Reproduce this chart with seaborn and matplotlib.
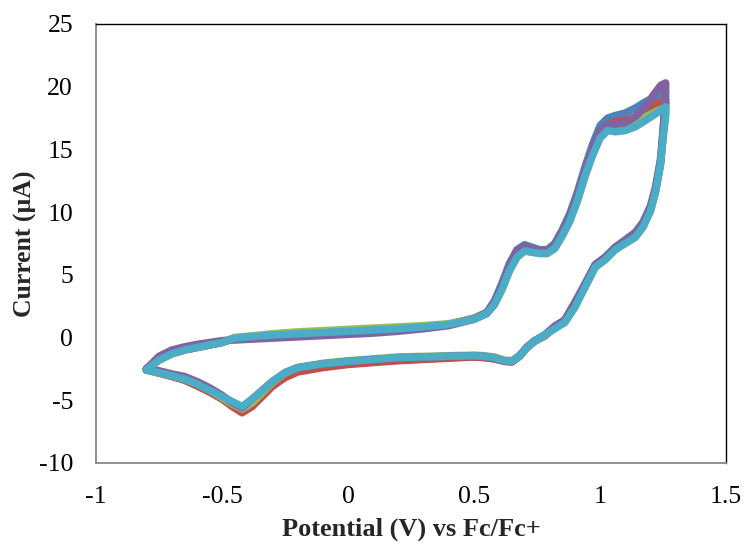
import matplotlib
matplotlib.use("Agg")
import matplotlib.pyplot as plt
import seaborn as sns
import pandas as pd

# Potential steps (V vs Fc/Fc+) for the anodic sweep and the return sweep
e_forward = [-0.80, -0.75, -0.70, -0.65, -0.60, -0.55, -0.50, -0.45, -0.40,
             -0.30, -0.20, -0.10, 0.00, 0.10, 0.20, 0.30, 0.40,
             0.45, 0.50, 0.55, 0.58, 0.61, 0.64, 0.67, 0.70,
             0.73, 0.76, 0.79, 0.82, 0.85, 0.88, 0.91, 0.94,
             0.97, 1.00, 1.03, 1.06, 1.10, 1.14, 1.18, 1.21, 1.24, 1.26]
e_reverse = [1.26, 1.25, 1.24, 1.22, 1.20, 1.17, 1.14, 1.10, 1.06,
             1.02, 0.98, 0.94, 0.90, 0.86, 0.82, 0.78, 0.74,
             0.71, 0.68, 0.65, 0.62, 0.58, 0.54, 0.50, 0.40,
             0.30, 0.20, 0.10, 0.00, -0.10, -0.20, -0.25, -0.30,
             -0.34, -0.38, -0.42, -0.46, -0.50, -0.55, -0.60, -0.65,
             -0.70, -0.75, -0.80]

# Current (µA) for each of the five recorded cycles
i_fwd_1 = [-2.5, -1.7, -1.3, -1.0, -0.8, -0.6, -0.4, -0.05, 0.05,
           0.2, 0.3, 0.4, 0.5, 0.6, 0.7, 0.85, 1.05,
           1.3, 1.55, 2.0, 2.9, 4.3, 5.9, 7.0, 7.4,
           7.2, 7.0, 7.0, 7.5, 8.6, 9.9, 11.6, 13.6,
           15.4, 16.9, 17.5, 17.7, 17.9, 18.3, 18.8, 19.1, 19.4, 19.6]
i_rev_1 = [18.8, 16.6, 14.3, 12.0, 10.5, 9.2, 8.4, 7.8, 7.2,
           6.4, 5.8, 4.3, 2.8, 1.4, 0.9, 0.2, -0.3,
           -0.8, -1.5, -1.95, -1.9, -1.7, -1.6, -1.55, -1.6,
           -1.7, -1.8, -1.95, -2.1, -2.35, -2.7, -3.1, -3.8,
           -4.6, -5.4, -5.95, -5.4, -4.9, -4.3, -3.8, -3.35,
           -3.1, -2.8, -2.5]

i_fwd_2 = [-2.6, -1.8, -1.3, -1.0, -0.8, -0.6, -0.4, -0.05, 0.05,
           0.2, 0.3, 0.4, 0.5, 0.6, 0.7, 0.85, 1.05,
           1.3, 1.5, 1.95, 2.7, 4.0, 5.6, 6.8, 7.2,
           7.0, 6.9, 6.9, 7.3, 8.4, 9.6, 11.2, 13.2,
           15.0, 16.4, 17.0, 17.2, 17.3, 17.6, 18.1, 18.5, 18.8, 18.9]
i_rev_2 = [18.3, 16.2, 14.0, 11.8, 10.3, 9.0, 8.2, 7.6, 7.1,
           6.3, 5.7, 4.1, 2.7, 1.3, 0.8, 0.1, -0.3,
           -0.8, -1.5, -1.95, -1.9, -1.7, -1.6, -1.55, -1.65,
           -1.75, -1.85, -2.0, -2.15, -2.4, -2.75, -3.2, -3.9,
           -4.7, -5.5, -6.0, -5.5, -4.9, -4.35, -3.85, -3.4,
           -3.1, -2.85, -2.6]

i_fwd_3 = [-2.6, -1.8, -1.3, -1.0, -0.75, -0.55, -0.35, 0.0, 0.1,
           0.3, 0.45, 0.55, 0.65, 0.75, 0.85, 0.95, 1.1,
           1.3, 1.5, 1.9, 2.6, 3.8, 5.3, 6.4, 6.9,
           6.8, 6.7, 6.7, 7.1, 8.1, 9.3, 10.9, 12.8,
           14.6, 16.0, 16.6, 16.6, 16.8, 17.2, 17.6, 17.9, 18.2, 18.3]
i_rev_3 = [17.8, 16.0, 13.8, 11.6, 10.1, 8.8, 8.0, 7.5, 7.0,
           6.2, 5.6, 4.0, 2.6, 1.2, 0.8, 0.15, -0.25,
           -0.75, -1.45, -1.85, -1.8, -1.55, -1.45, -1.4, -1.45,
           -1.5, -1.55, -1.7, -1.85, -2.05, -2.4, -2.85, -3.6,
           -4.4, -5.2, -5.7, -5.3, -4.8, -4.2, -3.7, -3.3,
           -3.05, -2.8, -2.6]

i_fwd_4 = [-2.5, -1.5, -1.0, -0.75, -0.55, -0.4, -0.25, -0.2, -0.15,
           -0.05, 0.05, 0.15, 0.25, 0.35, 0.5, 0.7, 0.95,
           1.2, 1.45, 1.95, 2.8, 4.1, 5.7, 6.9, 7.3,
           7.1, 6.9, 6.9, 7.3, 8.3, 9.6, 11.3, 13.3,
           15.1, 16.5, 17.0, 17.0, 17.1, 17.6, 18.4, 19.3, 20.1, 20.3]
i_rev_4 = [19.8, 16.5, 14.0, 11.9, 10.4, 9.1, 8.3, 7.7, 7.2,
           6.4, 5.8, 4.2, 2.8, 1.4, 0.9, 0.2, -0.25,
           -0.75, -1.45, -1.9, -1.85, -1.6, -1.5, -1.45, -1.5,
           -1.55, -1.6, -1.75, -1.9, -2.1, -2.4, -2.8, -3.5,
           -4.2, -4.9, -5.6, -5.2, -4.6, -4.0, -3.5, -3.1,
           -2.9, -2.65, -2.5]

i_fwd_5 = [-2.6, -1.8, -1.3, -1.0, -0.8, -0.6, -0.4, -0.05, 0.05,
           0.2, 0.3, 0.4, 0.5, 0.6, 0.7, 0.85, 1.05,
           1.25, 1.45, 1.9, 2.6, 3.8, 5.3, 6.4, 6.9,
           6.8, 6.7, 6.7, 7.1, 8.1, 9.3, 10.9, 12.9,
           14.5, 15.9, 16.5, 16.4, 16.5, 16.8, 17.3, 17.7, 18.1, 18.4]
i_rev_5 = [17.6, 16.0, 13.8, 11.6, 10.1, 8.8, 8.0, 7.5, 7.0,
           6.2, 5.6, 4.0, 2.4, 1.2, 0.7, 0.2, -0.3,
           -0.8, -1.5, -1.9, -1.85, -1.6, -1.5, -1.45, -1.5,
           -1.55, -1.6, -1.75, -1.9, -2.1, -2.4, -2.8, -3.5,
           -4.2, -4.9, -5.5, -5.1, -4.7, -4.2, -3.7, -3.3,
           -3.05, -2.8, -2.6]

cycles = ["Cycle 1", "Cycle 2", "Cycle 3", "Cycle 4", "Cycle 5"]
cycle_colors = ["#4F81BD", "#C0504D", "#9BBB59", "#8064A2", "#4BACC6"]
x_ticks = [-1, -0.5, 0, 0.5, 1, 1.5]
x_tick_labels = ["-1", "-0.5", "0", "0.5", "1", "1.5"]
y_ticks = [-10, -5, 0, 5, 10, 15, 20, 25]

sweeps = {
    "Cycle 1": (i_fwd_1, i_rev_1),
    "Cycle 2": (i_fwd_2, i_rev_2),
    "Cycle 3": (i_fwd_3, i_rev_3),
    "Cycle 4": (i_fwd_4, i_rev_4),
    "Cycle 5": (i_fwd_5, i_rev_5),
}

rows = []
for name in cycles:
    fwd, rev = sweeps[name]
    for e, i in zip(e_forward + e_reverse, fwd + rev):
        rows.append({"cycle": name, "E": e, "I": i})
df = pd.DataFrame(rows)

sns.set_theme(style="white")
plt.rcParams["font.family"] = ["Liberation Serif", "DejaVu Serif"]
plt.rcParams["axes.unicode_minus"] = False

fig = plt.figure(figsize=(7.44, 5.44), dpi=100)
ax = fig.add_axes([0.129, 0.149, 0.847, 0.807])

sns.lineplot(data=df, x="E", y="I", hue="cycle", hue_order=cycles,
             palette=cycle_colors, sort=False, estimator=None,
             linewidth=5.4, legend=False, ax=ax,
             solid_joinstyle="round", solid_capstyle="round")

ax.set_xlim(-1, 1.5)
ax.set_ylim(-10, 25)
ax.set_xticks(x_ticks)
ax.set_xticklabels(x_tick_labels)
ax.set_yticks(y_ticks)
ax.tick_params(axis="both", length=0, labelsize=18.5, colors="black")
ax.tick_params(axis="x", pad=16.5)
ax.tick_params(axis="y", pad=16.5)

for side in ("left", "bottom"):
    ax.spines[side].set_color("#868686")
    ax.spines[side].set_linewidth(1.3)
for side in ("top", "right"):
    ax.spines[side].set_color("black")
    ax.spines[side].set_linewidth(1.0)

ax.set_xlabel("Potential (V) vs Fc/Fc+", fontsize=19, fontweight="bold",
              labelpad=7)
ax.set_ylabel("Current (µA)", fontsize=18.5, fontweight="bold", labelpad=1.5)

fig.savefig("out.png", dpi=100)
